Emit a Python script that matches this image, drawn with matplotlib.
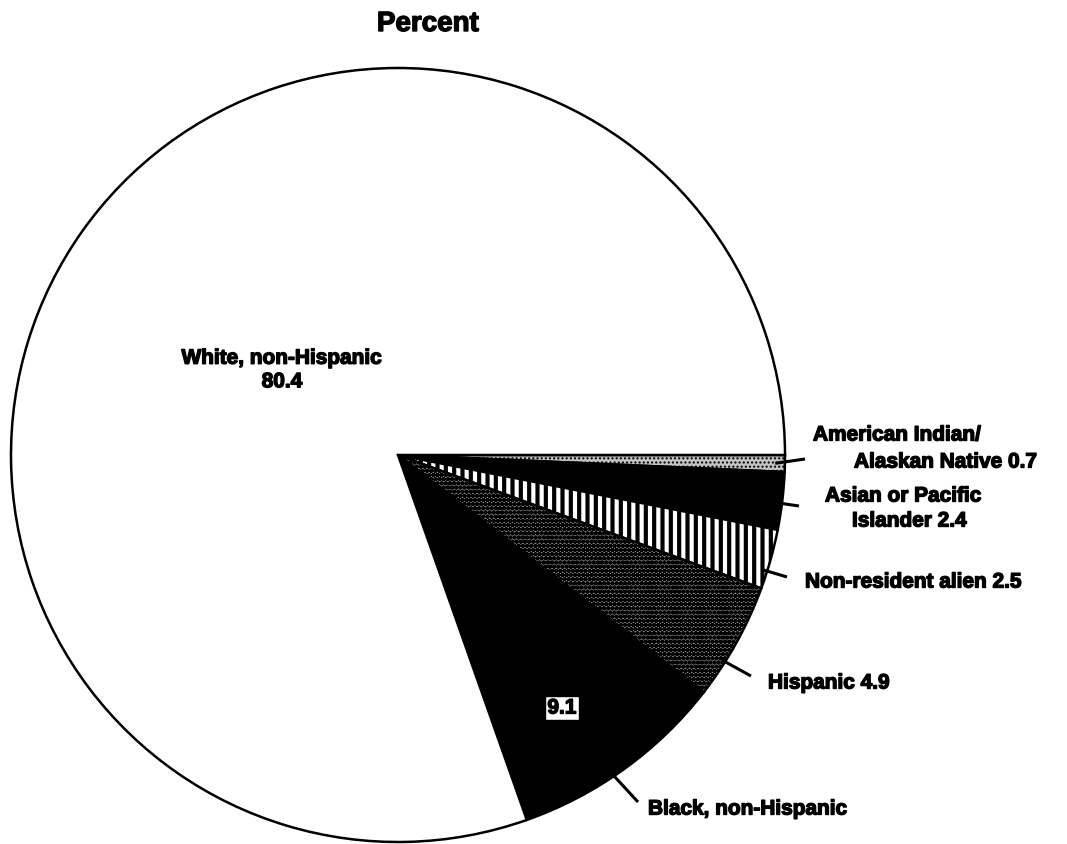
import numpy as np
import matplotlib.pyplot as plt
import matplotlib.patheffects as pe

# enrollment share by race/ethnicity, percent
groups = ["American Indian/\nAlaskan Native", "Asian or Pacific\nIslander", "Non-resident alien",
          "Hispanic", "Black, non-Hispanic", "White, non-Hispanic"]
percent = [0.7, 2.4, 2.5, 4.9, 9.1, 80.4]

plt.rcParams['font.family'] = ['Liberation Sans', 'DejaVu Sans']
plt.rcParams['font.weight'] = 'bold'
plt.rcParams['hatch.linewidth'] = 3.0

W, H = 1067, 844
cx, cy, r = 398, 455, 387

fig = plt.figure(figsize=(W / 100, H / 100), dpi=100)
ax = fig.add_axes([0, 0, 1, 1])

faces = ['#c4c4c4', 'black', 'white', '#8a8a8a', 'black', 'white']
hatches = ['....', None, '||', 'oooo', None, None]

wedges, _ = ax.pie(percent, startangle=0, counterclock=True, radius=r, center=(cx, cy),
                   colors=faces, wedgeprops=dict(edgecolor='black', linewidth=1.8))
for w, h in zip(wedges, hatches):
    if h:
        w.set_hatch(h)
    if h == '....' and hasattr(w, 'set_hatch_linewidth'):
        w.set_hatch_linewidth(1.0)
    if h == 'oooo' and hasattr(w, 'set_hatch_linewidth'):
        w.set_hatch_linewidth(1.6)

ax.set_xlim(0, W)
ax.set_ylim(H, 0)
ax.set_aspect('equal')
ax.axis('off')

fs = 15
heavy = [pe.withStroke(linewidth=1.0, foreground='black')]
ax.text(813, 435, "American Indian/", fontsize=fs, va='center', ha='left', path_effects=heavy)
ax.text(854, 462, "Alaskan Native " + f"{percent[0]}", fontsize=fs, va='center', ha='left',
        path_effects=heavy)
ax.text(825, 496, "Asian or Pacific", fontsize=fs, va='center', ha='left', path_effects=heavy)
ax.text(852, 521, "Islander " + f"{percent[1]}", fontsize=fs, va='center', ha='left',
        path_effects=heavy)
ax.text(805, 582, "Non-resident alien " + f"{percent[2]}", fontsize=fs, va='center', ha='left',
        path_effects=heavy)
ax.text(768, 683, "Hispanic " + f"{percent[3]}", fontsize=fs, va='center', ha='left',
        path_effects=heavy)
ax.text(648, 809, "Black, non-Hispanic", fontsize=fs, va='center', ha='left', path_effects=heavy)
ax.text(282, 370, "White, non-Hispanic\n" + f"{percent[5]}", fontsize=fs, va='center',
        ha='center', linespacing=1.3, path_effects=heavy)
ax.text(562, 708, f"{percent[4]}", fontsize=fs, va='center', ha='center', path_effects=heavy,
        bbox=dict(facecolor='white', edgecolor='black', pad=2, linewidth=1))

# leader lines: wedge index, fraction along wedge, radius factor, end point
leaders = [(0, 0.5, 0.975, (805, 459)), (1, 0.54, 0.99, (799, 506)),
           (2, 0.7, 0.99, (787, 577)), (3, 0.69, 0.99, (751, 676)),
           (4, 0.56, 0.99, (638, 802))]
for i, frac, rf, end in leaders:
    w = wedges[i]
    th = np.deg2rad(w.theta1 + frac * (w.theta2 - w.theta1))
    x0, y0 = cx + rf * r * np.cos(th), cy + rf * r * np.sin(th)
    ax.plot([x0, end[0]], [y0, end[1]], color='black', lw=2.2, solid_capstyle='butt')

fig.text(428 / W, 1 - 24 / H, "Percent", fontsize=20, ha='center', va='center',
         path_effects=[pe.withStroke(linewidth=1.0, foreground='black')])

fig.savefig('out.png', dpi=100)
